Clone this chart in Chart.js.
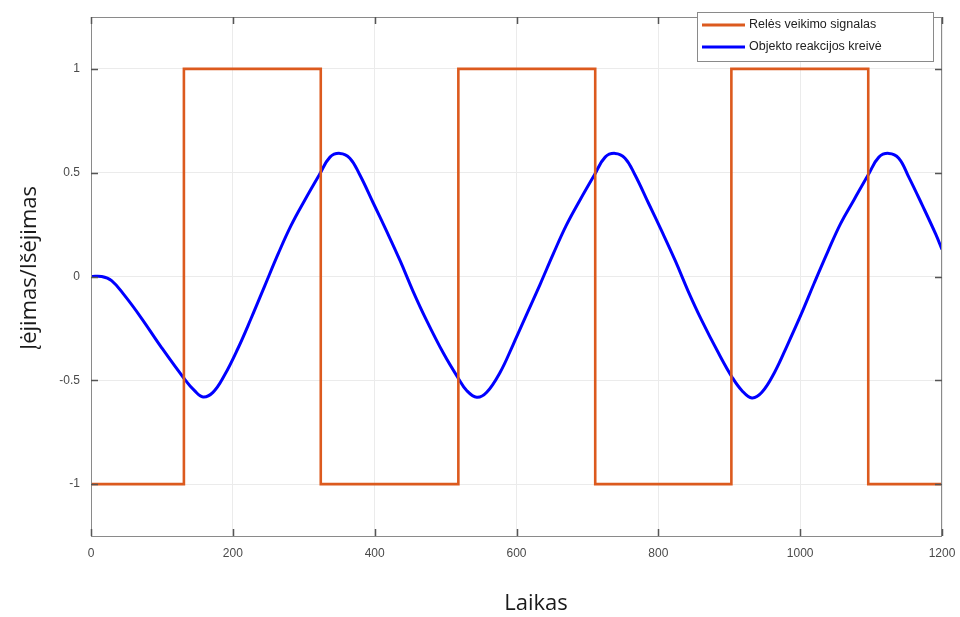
<!DOCTYPE html>
<html>
<head>
<meta charset="utf-8">
<script src="https://cdn.jsdelivr.net/npm/chart.js@4"></script>
<style>
  html, body { margin: 0; padding: 0; background: #fff; }
  #wrap { width: 960px; height: 617px; }
</style>
</head>
<body>
<div id="wrap"><canvas id="relayChart" width="960" height="617"></canvas></div>
<script>
// Relay output: switching instants and the level held after each switch
const relayTimes = [0, 131, 324, 518, 711, 903, 1096, 1200];
const relayLevels = [-1, 1, -1, 1, -1, 1, -1, -1];

// Plant response curve sampled along time
const responseTimes = [
    0, 15, 29, 47, 71, 99, 131, 146, 158, 172, 188, 207, 226, 245, 264, 282, 301, 322,
    337, 351, 365, 379, 398, 417, 436, 454, 473, 497, 517, 530, 544, 558, 577, 595, 614,
    633, 652, 670, 689, 710, 725, 739, 753, 767, 786, 805, 824, 842, 861, 885, 904, 918,
    932, 946, 964, 982, 1001, 1020, 1039, 1057, 1076, 1096, 1111, 1125, 1139, 1153, 1172,
    1191, 1200
];
const responseValues = [
    0, 0, -0.02, -0.09, -0.2, -0.34, -0.49, -0.55, -0.58, -0.558, -0.477, -0.348, -0.2,
    -0.045, 0.11, 0.245, 0.365, 0.49, 0.575, 0.593, 0.57, 0.49, 0.354, 0.217, 0.075,
    -0.07, -0.21, -0.37, -0.485, -0.55, -0.582, -0.558, -0.461, -0.33, -0.185, -0.04,
    0.11, 0.245, 0.365, 0.49, 0.575, 0.593, 0.57, 0.49, 0.354, 0.217, 0.075, -0.07,
    -0.21, -0.37, -0.485, -0.55, -0.585, -0.558, -0.461, -0.33, -0.185, -0.03, 0.12,
    0.255, 0.37, 0.49, 0.575, 0.593, 0.57, 0.48, 0.345, 0.205, 0.13
];

const xTicks = [0, 200, 400, 600, 800, 1000, 1200];
const yTicks = [-1, -0.5, 0, 0.5, 1];

const seriesLabels = ['Relės veikimo signalas', 'Objekto reakcijos kreivė'];
const axisTitles = { x: 'Laikas', y: 'Įėjimas/Išėjimas' };

const ORANGE = '#DC5A1E';
const BLUE = '#0000FF';

// Box, inward ticks, axis titles and the boxed legend in the top-right corner
const matlabFrame = {
    id: 'matlabFrame',
    afterDraw(chart) {
        const ctx = chart.ctx;
        const a = chart.chartArea;
        const xs = chart.scales.x, ys = chart.scales.y;
        ctx.save();

        // frame
        ctx.strokeStyle = '#8a8a8a';
        ctx.lineWidth = 1;
        ctx.strokeRect(a.left + 0.5, a.top + 0.5, a.right - a.left - 1, a.bottom - a.top);

        // inward tick marks
        ctx.strokeStyle = '#555';
        ctx.lineWidth = 1.5;
        ctx.beginPath();
        yTicks.forEach(v => {
            const py = Math.round(ys.getPixelForValue(v)) + 0.5;
            ctx.moveTo(a.left, py); ctx.lineTo(a.left + 7, py);
            ctx.moveTo(a.right, py); ctx.lineTo(a.right - 7, py);
        });
        xTicks.forEach(v => {
            const px = Math.round(xs.getPixelForValue(v)) + 0.5;
            ctx.moveTo(px, a.bottom); ctx.lineTo(px, a.bottom - 7);
            ctx.moveTo(px, a.top); ctx.lineTo(px, a.top + 7);
        });
        ctx.stroke();

        // axis titles
        ctx.fillStyle = '#1a1a1a';
        ctx.font = '22px "Open Sans"';
        ctx.textAlign = 'center';
        ctx.textBaseline = 'middle';
        ctx.fillText(axisTitles.x, 536, 604);
        ctx.save();
        ctx.translate(30, 268);
        ctx.rotate(-Math.PI / 2);
        ctx.fillText(axisTitles.y, 0, 0);
        ctx.restore();

        // legend
        const lx = 697, ly = 12, lw = 236, lh = 49;
        ctx.fillStyle = '#fff';
        ctx.fillRect(lx, ly, lw, lh);
        ctx.strokeStyle = '#8a8a8a';
        ctx.lineWidth = 1;
        ctx.strokeRect(lx + 0.5, ly + 0.5, lw, lh);
        ctx.font = '12.5px "Liberation Sans"';
        ctx.textAlign = 'left';
        chart.data.datasets.forEach((ds, i) => {
            const yy = ly + 13 + i * 22;
            ctx.strokeStyle = ds.borderColor;
            ctx.lineWidth = 3;
            ctx.beginPath();
            ctx.moveTo(lx + 5, yy); ctx.lineTo(lx + 48, yy);
            ctx.stroke();
            ctx.fillStyle = '#222';
            ctx.fillText(ds.label, lx + 52, yy);
        });
        ctx.restore();
    }
};

const ctx = document.getElementById('relayChart');
new Chart(ctx, {
    type: 'line',
    data: {
        datasets: [
            {
                label: seriesLabels[0],
                data: relayTimes.map((t, i) => ({ x: t, y: relayLevels[i] })),
                borderColor: ORANGE,
                borderWidth: 2.6,
                stepped: true,
                pointRadius: 0,
                fill: false
            },
            {
                label: seriesLabels[1],
                data: responseTimes.map((t, i) => ({ x: t, y: responseValues[i] })),
                borderColor: BLUE,
                borderWidth: 3,
                tension: 0.4,
                pointRadius: 0,
                fill: false
            }
        ]
    },
    options: {
        responsive: false,
        animation: false,
        layout: { padding: { left: 0, right: 18, top: 17, bottom: 0 } },
        plugins: {
            legend: { display: false },
            tooltip: { enabled: false }
        },
        scales: {
            x: {
                type: 'linear',
                min: 0,
                max: 1200,
                afterBuildTicks: s => { s.ticks = xTicks.map(v => ({ value: v })); },
                afterFit: s => { s.height = 81; s.paddingLeft = 0; s.paddingRight = 0; },
                grid: { color: '#ebebeb', drawTicks: false },
                border: { display: false },
                ticks: {
                    padding: 10,
                    color: '#4a4a4a',
                    font: { family: 'Liberation Sans', size: 12 },
                    callback: v => String(v)
                }
            },
            y: {
                type: 'linear',
                min: -1.25,
                max: 1.25,
                afterBuildTicks: s => { s.ticks = yTicks.map(v => ({ value: v })); },
                afterFit: s => { s.width = 91; s.paddingTop = 0; s.paddingBottom = 0; },
                grid: { color: '#ebebeb', drawTicks: false },
                border: { display: false },
                ticks: {
                    padding: 11,
                    color: '#4a4a4a',
                    font: { family: 'Liberation Sans', size: 12 },
                    callback: v => String(v)
                }
            }
        }
    },
    plugins: [matlabFrame]
});
</script>
</body>
</html>
